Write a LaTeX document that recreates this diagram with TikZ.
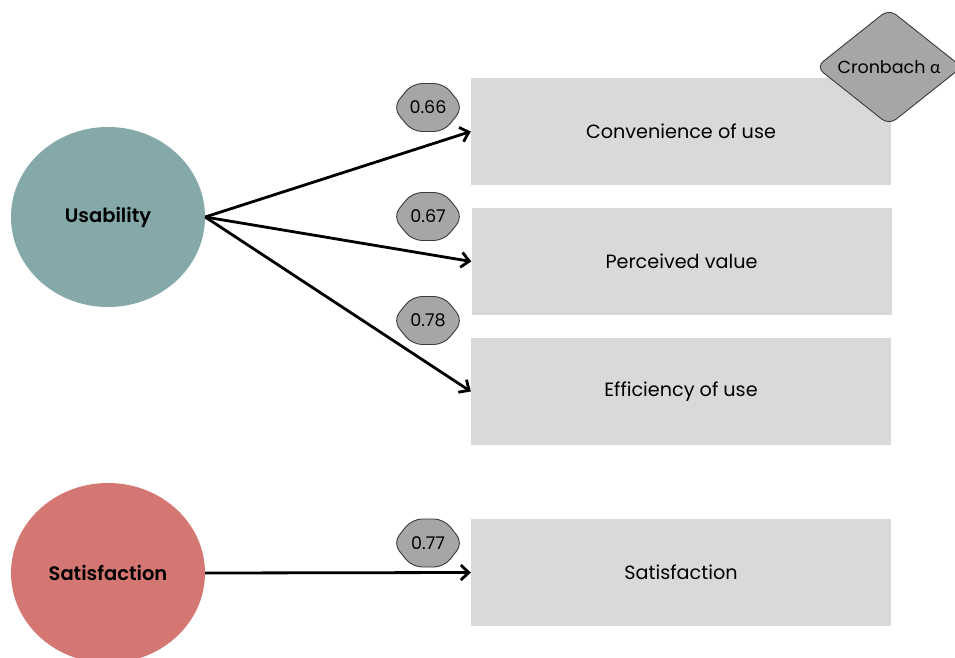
\documentclass[tikz,border=0pt]{standalone}
\usepackage{fontspec}
\setmainfont{Poppins}[BoldFont={Poppins SemiBold}]
\newfontfamily\grkfont{Lato}
\usetikzlibrary{shapes.geometric,arrows.meta,backgrounds}
\definecolor{teal1}{HTML}{84A9A8}
\definecolor{red1}{HTML}{D47772}
\definecolor{boxgray}{HTML}{D9D9D9}
\definecolor{lblgray}{HTML}{A6A6A6}
\definecolor{edgegray}{HTML}{3A3A3A}
\tikzset{
  construct/.style={ellipse, minimum width=194pt, minimum height=180pt, inner sep=0pt,
    font=\fontsize{19.5}{22}\selectfont\bfseries},
  itembox/.style={rectangle, fill=boxgray, minimum width=420pt, minimum height=107pt,
    inner sep=0pt, font=\fontsize{19.2}{22}\selectfont},
  loadlbl/.style={rectangle, minimum width=66pt, minimum height=46pt, inner sep=0pt,
    font=\fontsize{17.5}{20}\selectfont},
  lblbg/.style={fill=lblgray, draw=edgegray, line width=0.9pt, rounded corners=10pt},
  cronbach/.style={diamond, minimum width=146pt, minimum height=108pt, inner sep=0pt,
    fill=lblgray, draw=edgegray, line width=0.9pt, rounded corners=9pt,
    font=\fontsize{17.5}{20}\selectfont},
  conn/.style={line width=2.8pt, -{Straight Barb[length=8pt,width=15pt,line width=2.8pt]}},
}
\newcommand\drawlblshape[1]{%
  \path[lblbg] ([xshift=-35pt]#1.center) -- ([xshift=-16pt,yshift=24pt]#1.center)
    -- ([xshift=16pt,yshift=24pt]#1.center) -- ([xshift=35pt]#1.center)
    -- ([xshift=16pt,yshift=-24pt]#1.center) -- ([xshift=-16pt,yshift=-24pt]#1.center) -- cycle;}
\begin{document}
\begin{tikzpicture}[x=1pt,y=-1pt]
\useasboundingbox (0,0) rectangle (955,658);
% boxes
\node[itembox] (b1) at (681,131.5) {Convenience of use};
\node[itembox] (b2) at (681.5,261.5) {Perceived value};
\node[itembox] (b3) at (681,391.5) {Efficiency of use};
\node[itembox] (b4) at (681,572.5) {Satisfaction};
% cronbach diamond
\node[cronbach] (cr) at (889,67) {Cronbach {\grkfont α}};
% constructs
\node[construct, fill=teal1] (u) at (108,217) {Usability};
\node[construct, fill=red1] (s) at (108,573) {Satisfaction};
% connectors
\draw[conn] (u.east) -- (b1.west);
\draw[conn] (u.east) -- (b2.west);
\draw[conn] (u.east) -- (b3.west);
\draw[conn] (s.east) -- (b4.west);
% loading labels
\node[loadlbl] (l1) at (428,107.5) {0.66};
\node[loadlbl] (l2) at (428,216.5) {0.67};
\node[loadlbl] (l3) at (428,320.5) {0.78};
\node[loadlbl] (l4) at (428,543) {0.77};
\begin{scope}[on background layer]
  \fill[white] (0,0) rectangle (955,658);
  \drawlblshape{l1}
  \drawlblshape{l2}
  \drawlblshape{l3}
  \drawlblshape{l4}
\end{scope}
\end{tikzpicture}
\end{document}
